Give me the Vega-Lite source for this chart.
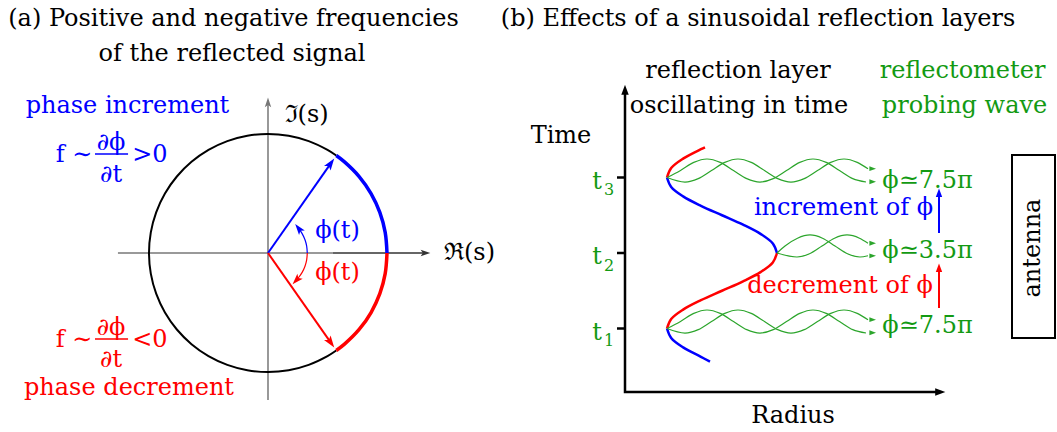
{
  "$schema": "https://vega.github.io/schema/vega-lite/v6.json",
  "padding": 0,
  "spacing": 0,
  "bounds": "flush",
  "background": "white",
  "config": {"view": {"stroke": null}},
  "datasets": {
    "circle": [
      {"re": 0.5736, "im": 0.8192, "deg": 55, "tone": "ink"},
      {"re": 0.5, "im": 0.866, "deg": 60, "tone": "ink"},
      {"re": 0.342, "im": 0.9397, "deg": 70, "tone": "ink"},
      {"re": 0.1736, "im": 0.9848, "deg": 80, "tone": "ink"},
      {"re": 0, "im": 1, "deg": 90, "tone": "ink"},
      {"re": -0.1736, "im": 0.9848, "deg": 100, "tone": "ink"},
      {"re": -0.342, "im": 0.9397, "deg": 110, "tone": "ink"},
      {"re": -0.5, "im": 0.866, "deg": 120, "tone": "ink"},
      {"re": -0.6428, "im": 0.766, "deg": 130, "tone": "ink"},
      {"re": -0.766, "im": 0.6428, "deg": 140, "tone": "ink"},
      {"re": -0.866, "im": 0.5, "deg": 150, "tone": "ink"},
      {"re": -0.9397, "im": 0.342, "deg": 160, "tone": "ink"},
      {"re": -0.9848, "im": 0.1736, "deg": 170, "tone": "ink"},
      {"re": -1, "im": 0, "deg": 180, "tone": "ink"},
      {"re": -0.9848, "im": -0.1736, "deg": 190, "tone": "ink"},
      {"re": -0.9397, "im": -0.342, "deg": 200, "tone": "ink"},
      {"re": -0.866, "im": -0.5, "deg": 210, "tone": "ink"},
      {"re": -0.766, "im": -0.6428, "deg": 220, "tone": "ink"},
      {"re": -0.6428, "im": -0.766, "deg": 230, "tone": "ink"},
      {"re": -0.5, "im": -0.866, "deg": 240, "tone": "ink"},
      {"re": -0.342, "im": -0.9397, "deg": 250, "tone": "ink"},
      {"re": -0.1736, "im": -0.9848, "deg": 260, "tone": "ink"},
      {"re": 0, "im": -1, "deg": 270, "tone": "ink"},
      {"re": 0.1736, "im": -0.9848, "deg": 280, "tone": "ink"},
      {"re": 0.342, "im": -0.9397, "deg": 290, "tone": "ink"},
      {"re": 0.5, "im": -0.866, "deg": 300, "tone": "ink"},
      {"re": 0.5736, "im": -0.8192, "deg": 305, "tone": "ink"},
      {"re": 1, "im": 0, "deg": 0, "tone": "pos"},
      {"re": 0.9848, "im": 0.1736, "deg": 10, "tone": "pos"},
      {"re": 0.9397, "im": 0.342, "deg": 20, "tone": "pos"},
      {"re": 0.866, "im": 0.5, "deg": 30, "tone": "pos"},
      {"re": 0.766, "im": 0.6428, "deg": 40, "tone": "pos"},
      {"re": 0.6428, "im": 0.766, "deg": 50, "tone": "pos"},
      {"re": 0.5736, "im": 0.8192, "deg": 55, "tone": "pos"},
      {"re": 0.5736, "im": -0.8192, "deg": -55, "tone": "neg"},
      {"re": 0.6428, "im": -0.766, "deg": -50, "tone": "neg"},
      {"re": 0.766, "im": -0.6428, "deg": -40, "tone": "neg"},
      {"re": 0.866, "im": -0.5, "deg": -30, "tone": "neg"},
      {"re": 0.9397, "im": -0.342, "deg": -20, "tone": "neg"},
      {"re": 0.9848, "im": -0.1736, "deg": -10, "tone": "neg"},
      {"re": 1, "im": 0, "deg": 0, "tone": "neg"}
    ]
  },
  "hconcat": [
    {
      "width": 502,
      "height": 432,
      "encoding": {
        "x": {"field": "re", "type": "quantitative", "scale": {"domain": [-2.2521, 1.9664], "nice": false, "zero": false}, "axis": null},
        "y": {"field": "im", "type": "quantitative", "scale": {"domain": [-1.5042, 2.1261], "nice": false, "zero": false}, "axis": null}
      },
      "layer": [
        {
          "data": {"values": [
            {"re": -1.261, "im": 0, "seg": "h", "tone": "axis", "k": 1},
            {"re": 0.546, "im": 0, "seg": "h", "tone": "axis", "k": 2},
            {"re": 0.546, "im": 0, "seg": "h2", "tone": "dark", "k": 1},
            {"re": 1.32, "im": 0, "seg": "h2", "tone": "dark", "k": 2},
            {"re": 0, "im": -1.235, "seg": "v", "tone": "axis", "k": 1},
            {"re": 0, "im": 1.27, "seg": "v", "tone": "axis", "k": 2}
          ]},
          "mark": {"type": "line", "strokeWidth": 1.5},
          "encoding": {
            "detail": {"field": "seg"},
            "order": {"field": "k", "type": "quantitative"},
            "color": {"field": "tone", "type": "nominal", "legend": null, "scale": {"domain": ["pos", "neg", "probe", "wave", "ink", "axis", "dark"], "range": ["#0000ff", "#ff0000", "#139a13", "#2ca52c", "#000000", "#777777", "#333333"]}}
          }
        },
        {
          "data": {"name": "circle"},
          "transform": [{"filter": "datum.tone === 'ink'"}],
          "mark": {"type": "line", "interpolate": "catmull-rom", "color": "black", "strokeWidth": 2},
          "encoding": {"order": {"field": "deg", "type": "quantitative"}}
        },
        {
          "data": {"name": "circle"},
          "transform": [{"filter": "datum.tone !== 'ink'"}],
          "mark": {"type": "line", "interpolate": "catmull-rom", "strokeWidth": 3.5},
          "encoding": {
            "detail": {"field": "tone"},
            "order": {"field": "deg", "type": "quantitative"},
            "color": {"field": "tone", "type": "nominal", "legend": null, "scale": {"domain": ["pos", "neg", "probe", "wave", "ink", "axis", "dark"], "range": ["#0000ff", "#ff0000", "#139a13", "#2ca52c", "#000000", "#777777", "#333333"]}}
          }
        },
        {
          "data": {"values": [
            {"re": 0, "im": 0, "seg": "v1", "tone": "pos", "k": 1},
            {"re": 0.5277, "im": 0.7536, "seg": "v1", "tone": "pos", "k": 2},
            {"re": 0, "im": 0, "seg": "v2", "tone": "neg", "k": 1},
            {"re": 0.5277, "im": -0.7536, "seg": "v2", "tone": "neg", "k": 2}
          ]},
          "mark": {"type": "line", "strokeWidth": 2},
          "encoding": {
            "detail": {"field": "seg"},
            "order": {"field": "k", "type": "quantitative"},
            "color": {"field": "tone", "type": "nominal", "legend": null, "scale": {"domain": ["pos", "neg", "probe", "wave", "ink", "axis", "dark"], "range": ["#0000ff", "#ff0000", "#139a13", "#2ca52c", "#000000", "#777777", "#333333"]}}
          }
        },
        {
          "data": {"values": [
            {"re": 0.33, "im": 0, "seg": "a1", "tone": "pos", "k": 1},
            {"re": 0.325, "im": 0.0573, "seg": "a1", "tone": "pos", "k": 2},
            {"re": 0.3101, "im": 0.1129, "seg": "a1", "tone": "pos", "k": 3},
            {"re": 0.2858, "im": 0.165, "seg": "a1", "tone": "pos", "k": 4},
            {"re": 0.267, "im": 0.194, "seg": "a1", "tone": "pos", "k": 5},
            {"re": 0.33, "im": 0, "seg": "a2", "tone": "neg", "k": 1},
            {"re": 0.325, "im": -0.0573, "seg": "a2", "tone": "neg", "k": 2},
            {"re": 0.3101, "im": -0.1129, "seg": "a2", "tone": "neg", "k": 3},
            {"re": 0.2858, "im": -0.165, "seg": "a2", "tone": "neg", "k": 4},
            {"re": 0.2528, "im": -0.2121, "seg": "a2", "tone": "neg", "k": 5}
          ]},
          "mark": {"type": "line", "interpolate": "catmull-rom", "strokeWidth": 1.2},
          "encoding": {
            "detail": {"field": "seg"},
            "order": {"field": "k", "type": "quantitative"},
            "color": {"field": "tone", "type": "nominal", "legend": null, "scale": {"domain": ["pos", "neg", "probe", "wave", "ink", "axis", "dark"], "range": ["#0000ff", "#ff0000", "#139a13", "#2ca52c", "#000000", "#777777", "#333333"]}}
          }
        },
        {
          "data": {"values": [
            {"re": 0.5242, "im": 0.7487, "bearing": 35, "kind": "vector", "tone": "pos"},
            {"re": 0.5242, "im": -0.7487, "bearing": 145, "kind": "vector", "tone": "neg"},
            {"re": 0.26, "im": 0.2032, "bearing": 322, "kind": "small", "tone": "pos"},
            {"re": 0.2413, "im": -0.2251, "bearing": 223, "kind": "small", "tone": "neg"},
            {"re": 1.319, "im": 0, "bearing": 90, "kind": "axis", "tone": "dark"},
            {"re": 0, "im": 1.261, "bearing": 0, "kind": "axis", "tone": "axis"}
          ]},
          "mark": {"type": "point", "shape": "M0,-1L0.6,0.8L0,0.4L-0.6,0.8Z", "filled": true, "opacity": 1, "strokeWidth": 0},
          "encoding": {
            "size": {"field": "kind", "type": "nominal", "legend": null, "scale": {"domain": ["vector", "small", "axis"], "range": [180, 49, 100]}},
            "angle": {"field": "bearing", "type": "quantitative", "scale": {"domain": [0, 360], "range": [0, 360]}},
            "color": {"field": "tone", "type": "nominal", "legend": null, "scale": {"domain": ["pos", "neg", "probe", "wave", "ink", "axis", "dark"], "range": ["#0000ff", "#ff0000", "#139a13", "#2ca52c", "#000000", "#777777", "#333333"]}}
          }
        },
        {
          "data": {"values": [
            {"re": -1.454, "re2": -1.176, "im": 0.832, "tone": "pos"},
            {"re": -1.454, "re2": -1.176, "im": -0.723, "tone": "neg"}
          ]},
          "mark": {"type": "rule", "strokeWidth": 1.5},
          "encoding": {
            "x2": {"field": "re2"},
            "color": {"field": "tone", "type": "nominal", "legend": null, "scale": {"domain": ["pos", "neg", "probe", "wave", "ink", "axis", "dark"], "range": ["#0000ff", "#ff0000", "#139a13", "#2ca52c", "#000000", "#777777", "#333333"]}}
          }
        },
        {
          "data": {"values": [
            {"re": -0.290, "im": 1.908, "label": "(a) Positive and negative frequencies", "tone": "ink"},
            {"re": -0.303, "im": 1.613, "label": "of the reflected signal", "tone": "ink"},
            {"re": 0.324, "im": 1.101, "label": "ℑ(s)", "tone": "ink"},
            {"re": 1.693, "im": -0.059, "label": "ℜ(s)", "tone": "ink"},
            {"re": 0.584, "im": 0.126, "label": "ϕ(t)", "tone": "pos"},
            {"re": 0.584, "im": -0.227, "label": "ϕ(t)", "tone": "neg"},
            {"re": -1.181, "im": 1.176, "label": "phase increment", "tone": "pos"},
            {"re": -1.630, "im": 0.765, "label": "f ∼", "tone": "pos"},
            {"re": -1.319, "im": 0.866, "label": "∂ϕ", "tone": "pos"},
            {"re": -1.319, "im": 0.597, "label": "∂t", "tone": "pos"},
            {"re": -0.992, "im": 0.765, "label": ">0", "tone": "pos"},
            {"re": -1.630, "im": -0.790, "label": "f ∼", "tone": "neg"},
            {"re": -1.319, "im": -0.689, "label": "∂ϕ", "tone": "neg"},
            {"re": -1.319, "im": -0.958, "label": "∂t", "tone": "neg"},
            {"re": -0.992, "im": -0.790, "label": "<0", "tone": "neg"},
            {"re": -1.168, "im": -1.193, "label": "phase decrement", "tone": "neg"}
          ]},
          "mark": {"type": "text", "font": "DejaVu Serif", "fontSize": 24, "align": "center", "baseline": "alphabetic"},
          "encoding": {
            "text": {"field": "label"},
            "color": {"field": "tone", "type": "nominal", "legend": null, "scale": {"domain": ["pos", "neg", "probe", "wave", "ink", "axis", "dark"], "range": ["#0000ff", "#ff0000", "#139a13", "#2ca52c", "#000000", "#777777", "#333333"]}}
          }
        }
      ]
    },
    {
      "width": 555,
      "height": 432,
      "encoding": {
        "x": {"field": "radius", "type": "quantitative", "scale": {"domain": [-12.3, 43.2], "nice": false, "zero": false}, "axis": null},
        "y": {"field": "time", "type": "quantitative", "scale": {"domain": [-0.3709, 5.351], "nice": false, "zero": false}, "axis": null}
      },
      "layer": [
        {
          "data": {"values": [
            {"radius": 0, "time": 4.16, "k": 1},
            {"radius": 0, "time": 0.158, "k": 2},
            {"radius": 31.5, "time": 0.158, "k": 3}
          ]},
          "mark": {"type": "line", "color": "black", "strokeWidth": 2.5, "strokeJoin": "miter"},
          "encoding": {"order": {"field": "k", "type": "quantitative"}}
        },
        {
          "data": {"values": [
            {"radius": -0.8, "radius2": 0, "time": 1},
            {"radius": -0.8, "radius2": 0, "time": 2},
            {"radius": -0.8, "radius2": 0, "time": 3}
          ]},
          "mark": {"type": "rule", "color": "black", "strokeWidth": 2.5},
          "encoding": {"x2": {"field": "radius2"}}
        },
        {
          "data": {"values": [
            {"radius": 8.5, "time": 0.56, "seg": "s0", "tone": "pos"},
            {"radius": 7.595, "time": 0.625, "seg": "s0", "tone": "pos"},
            {"radius": 5.811, "time": 0.75, "seg": "s0", "tone": "pos"},
            {"radius": 4.618, "time": 0.875, "seg": "s0", "tone": "pos"},
            {"radius": 4.2, "time": 1.0, "seg": "s0", "tone": "pos"},
            {"radius": 4.2, "time": 1.0, "seg": "s1", "tone": "neg"},
            {"radius": 4.618, "time": 1.125, "seg": "s1", "tone": "neg"},
            {"radius": 5.811, "time": 1.25, "seg": "s1", "tone": "neg"},
            {"radius": 7.595, "time": 1.375, "seg": "s1", "tone": "neg"},
            {"radius": 9.7, "time": 1.5, "seg": "s1", "tone": "neg"},
            {"radius": 11.805, "time": 1.625, "seg": "s1", "tone": "neg"},
            {"radius": 13.589, "time": 1.75, "seg": "s1", "tone": "neg"},
            {"radius": 14.782, "time": 1.875, "seg": "s1", "tone": "neg"},
            {"radius": 15.2, "time": 2.0, "seg": "s1", "tone": "neg"},
            {"radius": 15.2, "time": 2.0, "seg": "s2", "tone": "pos"},
            {"radius": 14.782, "time": 2.125, "seg": "s2", "tone": "pos"},
            {"radius": 13.589, "time": 2.25, "seg": "s2", "tone": "pos"},
            {"radius": 11.805, "time": 2.375, "seg": "s2", "tone": "pos"},
            {"radius": 9.7, "time": 2.5, "seg": "s2", "tone": "pos"},
            {"radius": 7.595, "time": 2.625, "seg": "s2", "tone": "pos"},
            {"radius": 5.811, "time": 2.75, "seg": "s2", "tone": "pos"},
            {"radius": 4.618, "time": 2.875, "seg": "s2", "tone": "pos"},
            {"radius": 4.2, "time": 3.0, "seg": "s2", "tone": "pos"},
            {"radius": 4.2, "time": 3.0, "seg": "s3", "tone": "neg"},
            {"radius": 4.618, "time": 3.125, "seg": "s3", "tone": "neg"},
            {"radius": 5.811, "time": 3.25, "seg": "s3", "tone": "neg"},
            {"radius": 7.595, "time": 3.375, "seg": "s3", "tone": "neg"},
            {"radius": 8.0, "time": 3.4, "seg": "s3", "tone": "neg"}
          ]},
          "mark": {"type": "line", "interpolate": "catmull-rom", "strokeWidth": 2.5},
          "encoding": {
            "detail": {"field": "seg"},
            "order": {"field": "time", "type": "quantitative"},
            "color": {"field": "tone", "type": "nominal", "legend": null, "scale": {"domain": ["pos", "neg", "probe", "wave", "ink", "axis", "dark"], "range": ["#0000ff", "#ff0000", "#139a13", "#2ca52c", "#000000", "#777777", "#333333"]}}
          }
        },
        {
          "data": {"values": [
            {"radius": 4.2, "time": 1.0, "wave": "t1a"},
            {"radius": 5.55, "time": 1.093, "wave": "t1a"},
            {"radius": 6.875, "time": 1.2, "wave": "t1a"},
            {"radius": 8.2, "time": 1.245, "wave": "t1a"},
            {"radius": 9.525, "time": 1.2, "wave": "t1a"},
            {"radius": 10.85, "time": 1.093, "wave": "t1a"},
            {"radius": 12.175, "time": 0.985, "wave": "t1a"},
            {"radius": 13.5, "time": 0.94, "wave": "t1a"},
            {"radius": 14.825, "time": 0.985, "wave": "t1a"},
            {"radius": 16.15, "time": 1.093, "wave": "t1a"},
            {"radius": 17.475, "time": 1.2, "wave": "t1a"},
            {"radius": 18.8, "time": 1.245, "wave": "t1a"},
            {"radius": 20.125, "time": 1.2, "wave": "t1a"},
            {"radius": 21.45, "time": 1.093, "wave": "t1a"},
            {"radius": 22.775, "time": 0.985, "wave": "t1a"},
            {"radius": 24.1, "time": 0.94, "wave": "t1a"},
            {"radius": 4.2, "time": 1.0, "wave": "t1b"},
            {"radius": 6.0, "time": 0.94, "wave": "t1b"},
            {"radius": 7.325, "time": 0.985, "wave": "t1b"},
            {"radius": 8.65, "time": 1.093, "wave": "t1b"},
            {"radius": 9.975, "time": 1.2, "wave": "t1b"},
            {"radius": 11.3, "time": 1.245, "wave": "t1b"},
            {"radius": 12.625, "time": 1.2, "wave": "t1b"},
            {"radius": 13.95, "time": 1.093, "wave": "t1b"},
            {"radius": 15.275, "time": 0.985, "wave": "t1b"},
            {"radius": 16.6, "time": 0.94, "wave": "t1b"},
            {"radius": 17.925, "time": 0.985, "wave": "t1b"},
            {"radius": 19.25, "time": 1.093, "wave": "t1b"},
            {"radius": 20.575, "time": 1.2, "wave": "t1b"},
            {"radius": 21.9, "time": 1.245, "wave": "t1b"},
            {"radius": 23.225, "time": 1.2, "wave": "t1b"},
            {"radius": 24.3, "time": 1.115, "wave": "t1b"},
            {"radius": 4.2, "time": 3.0, "wave": "t3a"},
            {"radius": 5.55, "time": 3.093, "wave": "t3a"},
            {"radius": 6.875, "time": 3.2, "wave": "t3a"},
            {"radius": 8.2, "time": 3.245, "wave": "t3a"},
            {"radius": 9.525, "time": 3.2, "wave": "t3a"},
            {"radius": 10.85, "time": 3.093, "wave": "t3a"},
            {"radius": 12.175, "time": 2.985, "wave": "t3a"},
            {"radius": 13.5, "time": 2.94, "wave": "t3a"},
            {"radius": 14.825, "time": 2.985, "wave": "t3a"},
            {"radius": 16.15, "time": 3.093, "wave": "t3a"},
            {"radius": 17.475, "time": 3.2, "wave": "t3a"},
            {"radius": 18.8, "time": 3.245, "wave": "t3a"},
            {"radius": 20.125, "time": 3.2, "wave": "t3a"},
            {"radius": 21.45, "time": 3.093, "wave": "t3a"},
            {"radius": 22.775, "time": 2.985, "wave": "t3a"},
            {"radius": 24.1, "time": 2.94, "wave": "t3a"},
            {"radius": 4.2, "time": 3.0, "wave": "t3b"},
            {"radius": 6.0, "time": 2.94, "wave": "t3b"},
            {"radius": 7.325, "time": 2.985, "wave": "t3b"},
            {"radius": 8.65, "time": 3.093, "wave": "t3b"},
            {"radius": 9.975, "time": 3.2, "wave": "t3b"},
            {"radius": 11.3, "time": 3.245, "wave": "t3b"},
            {"radius": 12.625, "time": 3.2, "wave": "t3b"},
            {"radius": 13.95, "time": 3.093, "wave": "t3b"},
            {"radius": 15.275, "time": 2.985, "wave": "t3b"},
            {"radius": 16.6, "time": 2.94, "wave": "t3b"},
            {"radius": 17.925, "time": 2.985, "wave": "t3b"},
            {"radius": 19.25, "time": 3.093, "wave": "t3b"},
            {"radius": 20.575, "time": 3.2, "wave": "t3b"},
            {"radius": 21.9, "time": 3.245, "wave": "t3b"},
            {"radius": 23.225, "time": 3.2, "wave": "t3b"},
            {"radius": 24.3, "time": 3.115, "wave": "t3b"},
            {"radius": 15.2, "time": 2.0, "wave": "t2a"},
            {"radius": 16.0, "time": 2.093, "wave": "t2a"},
            {"radius": 17.25, "time": 2.196, "wave": "t2a"},
            {"radius": 18.5, "time": 2.239, "wave": "t2a"},
            {"radius": 19.75, "time": 2.196, "wave": "t2a"},
            {"radius": 21.0, "time": 2.093, "wave": "t2a"},
            {"radius": 22.25, "time": 1.99, "wave": "t2a"},
            {"radius": 23.5, "time": 1.947, "wave": "t2a"},
            {"radius": 24.3, "time": 1.964, "wave": "t2a"},
            {"radius": 15.2, "time": 2.0, "wave": "t2b"},
            {"radius": 17.2, "time": 1.947, "wave": "t2b"},
            {"radius": 18.45, "time": 1.99, "wave": "t2b"},
            {"radius": 19.7, "time": 2.093, "wave": "t2b"},
            {"radius": 20.95, "time": 2.196, "wave": "t2b"},
            {"radius": 22.2, "time": 2.239, "wave": "t2b"},
            {"radius": 23.45, "time": 2.196, "wave": "t2b"},
            {"radius": 24.3, "time": 2.129, "wave": "t2b"}
          ]},
          "mark": {"type": "line", "interpolate": "monotone", "strokeWidth": 1.2, "color": "#2ca52c"},
          "encoding": {
            "detail": {"field": "wave"},
            "order": {"field": "radius", "type": "quantitative"}
          }
        },
        {
          "data": {"values": [
            {"radius": 31.4, "time": 2.265, "seg": "inc", "tone": "pos"},
            {"radius": 31.4, "time": 2.8, "seg": "inc", "tone": "pos"},
            {"radius": 31.4, "time": 1.272, "seg": "dec", "tone": "neg"},
            {"radius": 31.4, "time": 1.805, "seg": "dec", "tone": "neg"}
          ]},
          "mark": {"type": "line", "strokeWidth": 2},
          "encoding": {
            "detail": {"field": "seg"},
            "order": {"field": "time", "type": "quantitative"},
            "color": {"field": "tone", "type": "nominal", "legend": null, "scale": {"domain": ["pos", "neg", "probe", "wave", "ink", "axis", "dark"], "range": ["#0000ff", "#ff0000", "#139a13", "#2ca52c", "#000000", "#777777", "#333333"]}}
          }
        },
        {
          "data": {"values": [
            {"radius": 0, "time": 4.159, "bearing": 0, "kind": "axis", "tone": "ink"},
            {"radius": 31.5, "time": 0.158, "bearing": 90, "kind": "axis", "tone": "ink"},
            {"radius": 31.4, "time": 2.795, "bearing": 0, "kind": "marker", "tone": "pos"},
            {"radius": 31.4, "time": 1.802, "bearing": 0, "kind": "marker", "tone": "neg"},
            {"radius": 24.75, "time": 1.117, "bearing": 90, "kind": "wave", "tone": "wave"},
            {"radius": 24.75, "time": 0.944, "bearing": 90, "kind": "wave", "tone": "wave"},
            {"radius": 24.75, "time": 2.129, "bearing": 90, "kind": "wave", "tone": "wave"},
            {"radius": 24.75, "time": 1.962, "bearing": 90, "kind": "wave", "tone": "wave"},
            {"radius": 24.75, "time": 3.117, "bearing": 90, "kind": "wave", "tone": "wave"},
            {"radius": 24.75, "time": 2.944, "bearing": 90, "kind": "wave", "tone": "wave"}
          ]},
          "mark": {"type": "point", "shape": "M0,-1L0.7,0.9L-0.7,0.9Z", "filled": true, "opacity": 1, "strokeWidth": 0},
          "encoding": {
            "size": {"field": "kind", "type": "nominal", "legend": null, "scale": {"domain": ["axis", "marker", "wave"], "range": [196, 144, 81]}},
            "angle": {"field": "bearing", "type": "quantitative", "scale": {"domain": [0, 360], "range": [0, 360]}},
            "color": {"field": "tone", "type": "nominal", "legend": null, "scale": {"domain": ["pos", "neg", "probe", "wave", "ink", "axis", "dark"], "range": ["#0000ff", "#ff0000", "#139a13", "#2ca52c", "#000000", "#777777", "#333333"]}}
          }
        },
        {
          "data": {"values": [
            {"radius": 38.7, "radius2": 43.0, "time": 3.298, "time2": 0.874}
          ]},
          "mark": {"type": "rect", "filled": false, "stroke": "black", "strokeWidth": 2},
          "encoding": {"x2": {"field": "radius2"}, "y2": {"field": "time2"}}
        },
        {
          "data": {"values": [
            {"radius": 13.3, "time": 5.007, "label": "(b) Effects of a sinusoidal reflection layers", "tone": "ink"},
            {"radius": 11.3, "time": 4.318, "label": "reflection layer", "tone": "ink"},
            {"radius": 11.4, "time": 3.854, "label": "oscillating in time", "tone": "ink"},
            {"radius": 33.75, "time": 4.318, "label": "reflectometer", "tone": "probe"},
            {"radius": 33.95, "time": 3.854, "label": "probing wave", "tone": "probe"},
            {"radius": -6.4, "time": 3.457, "label": "Time", "tone": "ink"},
            {"radius": 16.8, "time": -0.252, "label": "Radius", "tone": "ink"},
            {"radius": 30.25, "time": 2.861, "label": "ϕ≃7.5π", "tone": "probe"},
            {"radius": 30.25, "time": 1.934, "label": "ϕ≃3.5π", "tone": "probe"},
            {"radius": 30.25, "time": 0.94, "label": "ϕ≃7.5π", "tone": "probe"},
            {"radius": 21.85, "time": 2.503, "label": "increment of ϕ", "tone": "pos"},
            {"radius": 21.5, "time": 1.47, "label": "decrement of ϕ", "tone": "neg"},
            {"radius": -2.8, "time": 2.854, "label": "t", "tone": "probe"},
            {"radius": -2.8, "time": 1.854, "label": "t", "tone": "probe"},
            {"radius": -2.8, "time": 0.854, "label": "t", "tone": "probe"}
          ]},
          "mark": {"type": "text", "font": "DejaVu Serif", "fontSize": 24, "align": "center", "baseline": "alphabetic"},
          "encoding": {
            "text": {"field": "label"},
            "color": {"field": "tone", "type": "nominal", "legend": null, "scale": {"domain": ["pos", "neg", "probe", "wave", "ink", "axis", "dark"], "range": ["#0000ff", "#ff0000", "#139a13", "#2ca52c", "#000000", "#777777", "#333333"]}}
          }
        },
        {
          "data": {"values": [
            {"radius": -1.6, "time": 2.762, "label": "3"},
            {"radius": -1.6, "time": 1.762, "label": "2"},
            {"radius": -1.6, "time": 0.762, "label": "1"}
          ]},
          "mark": {"type": "text", "font": "DejaVu Serif", "fontSize": 16, "align": "center", "baseline": "alphabetic", "color": "#139a13"},
          "encoding": {"text": {"field": "label"}}
        },
        {
          "data": {"values": [
            {"radius": 41.5, "time": 2.066, "label": "antenna"}
          ]},
          "mark": {"type": "text", "font": "DejaVu Serif", "fontSize": 24, "align": "center", "baseline": "alphabetic", "angle": 270, "color": "black"},
          "encoding": {"text": {"field": "label"}}
        }
      ]
    }
  ]
}
